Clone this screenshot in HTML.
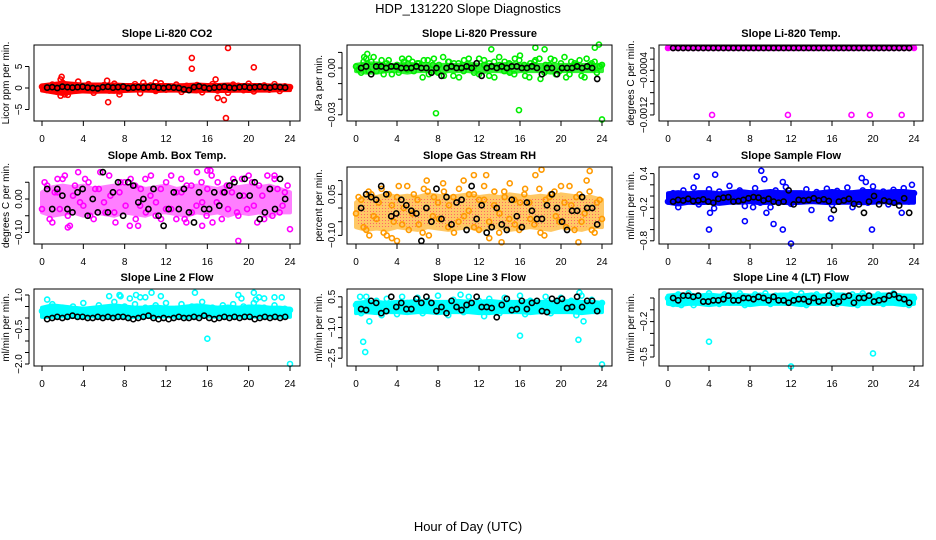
<!DOCTYPE html>
<html><head><meta charset="utf-8"><style>
html,body{margin:0;padding:0;background:#fff;}
svg{display:block;font-family:"Liberation Sans",sans-serif;}
</style></head><body>
<svg id="chart" width="936" height="540" viewBox="0 0 936 540">
<defs>
<pattern id="rhdots" width="3" height="3" patternUnits="userSpaceOnUse"><rect width="3" height="3" fill="#ffa500"/><rect x="1" y="1" width="1" height="1" fill="#ff0000"/></pattern>
</defs>
<text x="468" y="13" text-anchor="middle" font-size="13">HDP_131220  Slope Diagnostics</text>
<text x="468" y="531" text-anchor="middle" font-size="13">Hour of Day (UTC)</text>
<g id="panels"></g>
</svg>
<script>
// ---- data ----
const xTicks = [0,4,8,12,16,20,24];
const xTickLabels = ["0","4","8","12","16","20","24"];

const co2Lo = [-0.6,-1.0,-1.4,-1.0,-0.8,-0.9,-0.8,-0.9,-0.7,-0.6,-0.6,-0.7,-0.6,-0.6,-0.7,-0.8,-0.6,-0.7,-0.7,-0.6,-0.7,-0.6,-0.6,-0.5,-0.5];
const co2Hi = [0.6,0.9,1.2,1.0,0.8,0.8,0.8,0.8,0.7,0.7,0.6,0.7,0.7,0.6,0.7,0.8,0.7,0.7,0.8,0.7,0.7,0.7,0.6,0.6,0.5];
const co2Pts = [0.3,-0.5,0.8,-0.9,1.2,-1.6,0.6,1.5,-0.4,0.9,-1.1,0.2,0.7,-0.6,1.0,-0.8,0.4,-0.3,0.9,-1.2,0.5,0.6,-0.7,1.1,-0.4,0.3,0.8,-0.9,0.5,-0.2,0.7,-1.0,0.4,0.9,-0.6,0.2,-1.1,0.8,0.5,-0.5,1.0,-0.8,0.3,0.6,-0.4,0.9,-0.7,0.4,0.2];
const co2Blk = [0.1,0.2,0.0,0.3,0.2,0.1,0.2,0.3,0.1,0.0,-0.1,0.2,0.3,0.1,0.2,0.3,0.0,0.1,0.2,0.1,0.2,0.3,0.1,0.0,0.2,0.1,0.0,-0.3,-0.5,0.2,0.4,0.1,-0.1,0.1,0.2,0.3,0.1,0.0,0.2,0.3,0.1,0.2,0.3,0.2,0.1,0.3,0.2,0.1];
const co2OutX = [1.9,1.8,6.4,6.3,14.5,14.5,18,17.8,16.8,17,17.6,20.5,1.8,2.2,7.5,9.8,11];
const co2OutY = [2.6,2.0,-3.3,1.7,7,4.5,9.3,-7,2,-2.3,-2.8,4.8,-1.8,-1.5,-1.5,1.2,1.3];

const presLo = [-0.002,-0.003,-0.003,-0.002,-0.002,-0.003,-0.002,-0.002,-0.003,-0.002,-0.002,-0.002,-0.003,-0.002,-0.002,-0.003,-0.002,-0.002,-0.002,-0.003,-0.002,-0.002,-0.002,-0.002,-0.002];
const presHi = [0.002,0.003,0.003,0.002,0.002,0.003,0.002,0.002,0.002,0.002,0.002,0.003,0.002,0.002,0.002,0.003,0.002,0.002,0.002,0.002,0.002,0.002,0.002,0.002,0.002];
const presPts = [0.001,-0.003,0.006,0.004,-0.002,0.005,0.003,-0.004,0.002,0.006,-0.001,0.004,0.003,-0.006,0.005,0.002,-0.003,0.007,0.004,-0.005,0.003,-0.002,0.006,0.001,-0.004,0.005,0.003,-0.006,0.002,0.004,-0.003,0.006,0.008,-0.005,0.003,0.005,-0.007,0.002,0.006,-0.004,0.003,-0.006,0.004,0.002,-0.005,0.006,0.003,-0.003,0.002];
const presPts2 = [-0.001,0.004,-0.002,0.007,0.002,-0.004,0.005,0.001,-0.003,0.004,0.006,-0.002,0.003,0.005,-0.004,0.006,0.002,-0.005,0.004,0.003,-0.006,0.005,0.001,-0.003,0.006,0.002,-0.005,0.004,0.007,-0.002,0.003,-0.004,0.005,0.002,-0.006,0.004,0.006,-0.003,0.002,0.005,-0.002,0.007,-0.004,0.003,0.005,-0.006,0.002,0.004,0.001];
const presBlk = [0.000,0.001,-0.004,0.001,0.001,0.000,0.001,0.001,0.000,0.000,0.000,0.001,0.000,0.000,-0.003,0.000,-0.005,0.000,0.001,0.000,0.000,0.001,0.000,0.003,-0.005,0.000,0.001,0.000,0.001,0.000,0.001,0.001,0.000,0.000,0.001,0.000,-0.004,0.000,0.000,-0.004,0.000,0.000,0.000,0.001,0.000,0.001,0.000,-0.007];
const presOutX = [7.8,15.9,24,13.2,17.5,18.4,23.3,23.7,0.8,1.1];
const presOutY = [-0.029,-0.027,-0.033,0.012,0.013,0.012,0.013,0.015,0.007,0.009];

const tempLo = [0,0,0,0,0,0,0,0,0,0,0,0,0,0,0,0,0,0,0,0,0,0,0,0,0];
const tempHi = [0,0,0,0,0,0,0,0,0,0,0,0,0,0,0,0,0,0,0,0,0,0,0,0,0];
const tempPts = [0,0,0,0,0,0,0,0,0,0,0,0,0,0,0,0,0,0,0,0,0,0,0,0,0,0,0,0,0,0,0,0,0,0,0,0,0,0,0,0,0,0,0,0,0,0,0,0,0];
const tempPts2 = [];
const tempBlk = [0,0,0,0,0,0,0,0,0,0,0,0,0,0,0,0,0,0,0,0,0,0,0,0,0,0,0,0,0,0,0,0,0,0,0,0,0,0,0,0,0,0,0,0,0,0,0,0];
const tempOutX = [4.3,11.7,17.9,19.7,22.8];
const tempOutY = [-0.0012,-0.0012,-0.0012,-0.0012,-0.0012];

const ambLo = [-0.04,-0.05,-0.045,-0.04,-0.05,-0.04,-0.045,-0.05,-0.04,-0.045,-0.05,-0.04,-0.04,-0.045,-0.05,-0.04,-0.045,-0.04,-0.05,-0.04,-0.045,-0.04,-0.05,-0.04,-0.04];
const ambHi = [0.02,0.035,0.04,0.035,0.04,0.03,0.035,0.04,0.035,0.04,0.03,0.035,0.04,0.03,0.035,0.04,0.035,0.03,0.04,0.035,0.04,0.035,0.04,0.03,0.02];
const ambPts = [-0.03,0.04,-0.07,0.02,0.06,-0.05,0.01,0.08,-0.02,0.05,-0.06,0.03,-0.01,0.07,-0.04,0.02,0.05,-0.08,0.04,-0.02,0.06,0.01,-0.05,0.03,-0.03,0.07,-0.06,0.02,0.04,-0.04,0.08,-0.01,0.03,-0.07,0.05,0.02,-0.03,0.06,-0.05,0.01,0.07,-0.02,0.04,-0.06,0.03,0.06,-0.04,0.02,-0.09];
const ambPts2 = [0.05,-0.06,0.02,-0.03,0.07,-0.08,0.04,-0.01,0.06,-0.05,0.03,0.08,-0.04,0.01,-0.07,0.05,-0.02,0.06,-0.06,0.03,-0.04,0.07,-0.01,-0.06,0.05,-0.03,0.02,0.06,-0.07,0.04,-0.02,0.05,-0.05,0.07,-0.01,-0.06,0.04,0.02,-0.04,0.06,-0.03,0.05,-0.07,0.01,0.07,-0.05,0.03,-0.02,0.04];
const ambBlk = [0.03,-0.03,0.03,0.01,-0.03,-0.04,0.02,0.03,-0.05,0.0,-0.04,0.08,-0.04,0.02,0.05,-0.05,0.05,0.04,-0.01,0.0,-0.03,0.03,-0.05,-0.08,-0.03,0.02,-0.03,0.03,-0.04,-0.07,0.02,-0.03,-0.03,0.02,-0.02,0.02,0.04,0.05,0.01,0.06,0.01,0.05,-0.06,-0.04,0.03,-0.03,0.06,0.0];
const ambOutX = [19,2.5,9.3,16,16.3,1.5,15.5,22.5,13.8];
const ambOutY = [-0.125,-0.085,-0.08,0.085,0.085,0.06,-0.08,0.07,-0.06];

const rhLo = [-0.07,-0.08,-0.075,-0.08,-0.07,-0.075,-0.08,-0.07,-0.075,-0.08,-0.075,-0.07,-0.08,-0.075,-0.07,-0.08,-0.075,-0.07,-0.075,-0.08,-0.07,-0.075,-0.08,-0.07,-0.07];
const rhHi = [0.02,0.045,0.04,0.05,0.04,0.045,0.04,0.05,0.045,0.04,0.045,0.05,0.04,0.045,0.04,0.05,0.045,0.04,0.045,0.04,0.05,0.045,0.04,0.04,0.03];
const rhPts = [-0.02,0.03,-0.08,0.05,-0.04,0.07,-0.1,0.01,0.04,-0.06,0.08,-0.02,0.03,-0.09,0.06,-0.03,0.02,0.09,-0.07,0.04,-0.05,0.1,-0.01,0.05,-0.08,0.03,-0.11,0.06,-0.02,0.04,0.09,-0.06,0.02,0.07,-0.04,0.12,-0.09,0.03,0.05,-0.03,0.08,-0.07,0.01,0.04,-0.05,0.1,-0.08,0.02,-0.04];
const rhPts2 = [0.04,-0.07,0.06,-0.03,0.02,-0.09,0.05,-0.05,0.08,0.0,-0.08,0.05,-0.06,0.07,-0.1,0.04,-0.04,0.06,0.01,-0.09,0.07,-0.03,0.05,-0.07,0.03,0.08,-0.05,0.01,-0.09,0.06,-0.04,0.03,-0.08,0.05,0.02,-0.06,0.07,-0.1,0.04,0.06,-0.05,0.02,0.08,-0.08,0.05,-0.02,0.06,-0.09,0.03];
const rhBlk = [0.0,0.05,0.04,0.03,0.08,0.05,-0.03,-0.02,0.03,0.01,-0.01,-0.02,-0.12,0.0,-0.05,0.07,-0.04,0.04,-0.06,0.02,0.03,-0.08,0.08,-0.04,0.01,-0.09,-0.07,0.0,-0.06,-0.08,0.03,-0.03,-0.07,0.02,-0.01,-0.04,-0.04,0.01,0.05,0.0,-0.05,-0.08,-0.01,-0.01,0.04,0.0,0.0,-0.06];
const rhOutX = [18.1,22.8,11.5,12.7,1.3,3.5,4.0,14.2,21.7,6.9];
const rhOutY = [0.14,0.135,0.12,0.12,-0.1,-0.11,-0.12,-0.125,-0.125,0.1];

const flowLo = [-0.12,-0.15,-0.12,-0.13,-0.12,-0.14,-0.12,-0.12,-0.11,-0.13,-0.12,-0.12,-0.13,-0.12,-0.11,-0.12,-0.13,-0.12,-0.12,-0.13,-0.12,-0.11,-0.12,-0.12,-0.12];
const flowHi = [0.05,0.07,0.05,0.07,0.07,0.05,0.07,0.09,0.07,0.07,0.09,0.07,0.07,0.07,0.05,0.07,0.09,0.07,0.07,0.09,0.09,0.07,0.09,0.09,0.07];
const flowPts = [-0.1,0.05,-0.2,0.1,-0.05,0.15,-0.15,0.0,0.12,-0.22,0.08,-0.1,0.18,-0.05,0.1,-0.18,0.02,0.14,-0.12,0.06,-0.2,0.1,-0.03,0.16,-0.14,0.04,-0.08,0.12,-0.25,0.07,-0.02,0.13,-0.16,0.09,-0.06,0.15,-0.2,0.03,0.1,-0.12,0.17,-0.04,0.08,-0.15,0.11,-0.07,0.14,-0.1,0.05];
const flowPts2 = [];
const flowBlk = [-0.1,-0.07,-0.08,-0.05,-0.09,-0.08,-0.06,-0.1,-0.12,-0.05,-0.03,-0.02,-0.1,-0.09,-0.07,-0.04,-0.02,-0.03,-0.08,-0.05,-0.1,-0.12,-0.1,0.1,-0.15,-0.07,-0.08,-0.07,-0.04,-0.08,-0.06,-0.09,-0.25,-0.1,-0.08,-0.05,-0.14,-0.15,-0.3,-0.1,0.0,-0.15,-0.08,-0.1,-0.12,-0.17,-0.04,-0.3];
const flowOutX = [2.8,4.6,9.1,9.4,11.2,18.9,19.3,23.8,4.0,4.1,7.5,9.6,10.3,11.2,12,15.9,19.9,8.3,22.8];
const flowOutY = [0.35,0.38,0.45,0.3,0.25,0.32,0.25,0.2,-0.6,-0.3,-0.45,-0.3,-0.5,-0.6,-0.85,-0.4,-0.6,-0.2,-0.3];

const l2Lo = [0.05,0.05,0.07,0.05,0.05,0.07,0.05,0.05,0.07,0.05,0.05,0.05,0.07,0.05,0.05,0.05,0.07,0.05,0.05,0.05,0.07,0.05,0.05,0.05,0.05];
const l2Hi = [0.45,0.55,0.5,0.45,0.4,0.45,0.5,0.55,0.5,0.45,0.45,0.5,0.45,0.45,0.5,0.55,0.5,0.45,0.5,0.45,0.5,0.5,0.45,0.45,0.4];
const l2Pts = [0.3,0.1,0.6,0.2,0.45,0.05,0.5,0.25,0.65,0.1,0.35,0.55,0.15,0.4,0.7,0.2,0.5,0.05,0.6,0.3,0.45,0.1,0.55,0.25,0.65,0.15,0.4,0.6,0.05,0.5,0.3,0.7,0.2,0.45,0.1,0.55,0.35,0.6,0.15,0.5,0.25,0.65,0.1,0.45,0.3,0.55,0.2,0.4,0.35];
const l2Pts2 = [];
const l2Blk = [-0.05,0.0,0.05,0.0,0.05,0.1,0.05,0.05,0.0,0.0,0.05,0.0,0.05,0.0,0.05,0.05,0.0,-0.05,0.0,0.05,0.1,0.0,-0.05,0.0,-0.05,0.0,0.05,0.0,0.0,0.05,0.0,0.1,0.0,-0.05,0.0,0.05,0.0,0.05,0.0,0.05,0.05,-0.05,0.0,0.05,0.0,0.05,0.0,0.05];
const l2OutX = [0.5,6.5,7.5,7.6,8.5,9.1,9.5,10,10.6,11.5,14.8,19,19.3,20.5,20.7,21,21.5,22.5,23.2,16,24];
const l2OutY = [0.8,0.95,1.0,0.95,0.85,1.0,0.9,0.9,1.1,0.95,1.1,1.0,0.85,1.1,0.8,0.9,0.85,0.9,0.9,-0.9,-2.0];

const l3Lo = [-0.3,-0.25,-0.3,-0.25,-0.25,-0.3,-0.25,-0.25,-0.3,-0.25,-0.25,-0.25,-0.3,-0.3,-0.25,-0.25,-0.25,-0.3,-0.25,-0.25,-0.25,-0.25,-0.3,-0.25,-0.25];
const l3Hi = [0.2,0.25,0.25,0.2,0.25,0.25,0.3,0.25,0.25,0.25,0.3,0.25,0.25,0.3,0.25,0.25,0.25,0.3,0.25,0.25,0.25,0.3,0.25,0.25,0.2];
const l3Pts = [0.1,-0.3,0.5,-0.2,0.3,-0.4,0.4,0.0,-0.35,0.5,0.2,-0.1,0.45,-0.3,0.3,-0.2,0.55,0.0,-0.4,0.35,0.15,-0.25,0.5,-0.1,0.3,-0.45,0.4,0.05,-0.3,0.45,0.2,-0.15,0.55,-0.35,0.3,0.1,-0.2,0.5,-0.3,0.25,0.45,-0.1,0.3,-0.4,0.55,0.0,0.35,-0.2,0.2];
const l3Pts2 = [];
const l3Blk = [-0.1,-0.15,0.3,0.2,-0.3,-0.2,0.5,0.0,0.2,-0.1,-0.1,0.4,0.2,0.5,0.2,-0.2,0.0,-0.3,0.3,0.0,-0.15,0.1,0.2,0.5,0.0,0.0,-0.05,-0.5,0.1,0.4,-0.15,-0.1,0.3,-0.1,0.2,0.3,-0.2,-0.25,0.4,0.3,0.4,-0.05,0.0,0.5,0.0,0.3,0.3,-0.2];
const l3OutX = [0.7,0.9,1.3,16,21.7,22.2,24,21.8,0.4,10.2];
const l3OutY = [-1.7,-2.2,-0.7,-1.4,-1.6,-0.7,-2.8,0.7,0.5,0.6];

const l4Lo = [-0.05,-0.06,-0.05,-0.05,-0.06,-0.05,-0.05,-0.05,-0.06,-0.05,-0.05,-0.05,-0.05,-0.06,-0.05,-0.05,-0.05,-0.05,-0.06,-0.05,-0.05,-0.05,-0.05,-0.06,-0.05];
const l4Hi = [0.02,0.03,0.03,0.02,0.03,0.02,0.03,0.03,0.02,0.03,0.02,0.03,0.03,0.02,0.03,0.02,0.03,0.03,0.02,0.03,0.02,0.03,0.03,0.02,0.02];
const l4Pts = [0.0,-0.05,0.03,-0.02,0.04,-0.06,0.02,-0.03,0.04,0.0,-0.05,0.03,-0.04,0.02,0.04,-0.06,0.01,0.03,-0.03,0.04,-0.05,0.02,0.0,-0.04,0.03,-0.02,0.04,-0.06,0.02,0.03,-0.04,0.01,0.04,-0.05,0.02,-0.02,0.03,-0.06,0.04,0.0,-0.03,0.03,-0.05,0.02,0.04,-0.04,0.01,-0.06,0.0];
const l4Pts2 = [];
const l4Blk = [0.0,-0.02,0.02,0.02,0.01,0.02,-0.03,-0.03,-0.02,-0.02,-0.01,0.02,-0.02,-0.02,0.0,0.0,-0.01,0.01,0.0,-0.02,0.01,-0.02,-0.02,-0.04,-0.02,-0.01,-0.01,-0.03,0.0,-0.03,-0.02,0.02,-0.04,-0.03,0.01,0.02,-0.04,0.0,0.0,0.02,-0.03,-0.02,-0.01,0.02,0.03,0.0,-0.01,-0.04];
const l4OutX = [4.0,12.0,20.0,1.3];
const l4OutY = [-0.37,-0.58,-0.47,-0.06];
const co2Pts2 = [];

// y tick values & labels
const co2YTicks = [5,0,-5], co2YLabels = ["5","0","\u22125"];
const presYTicks = [0.01,0,-0.01,-0.02,-0.03], presYLabels = ["","0.00","","","\u22120.03"];
const tempYTicks = [0,-0.0002,-0.0004,-0.0006,-0.0008,-0.001,-0.0012], tempYLabels = ["","","\u22120.0004","","","","\u22120.0012"];
const ambYTicks = [0.05,0,-0.05,-0.1], ambYLabels = ["","0.00","","\u22120.10"];
const rhYTicks = [0.1,0.05,0,-0.05,-0.1], rhYLabels = ["","0.05","","","\u22120.10"];
const flowYTicks = [0.4,0.2,0,-0.2,-0.4,-0.6,-0.8], flowYLabels = ["0.4","","","\u22120.2","","","\u22120.8"];
const l2YTicks = [1,0.5,0,-0.5,-1,-1.5,-2], l2YLabels = ["1.0","","","\u22120.5","","","\u22122.0"];
const l3YTicks = [0.5,0,-0.5,-1,-1.5,-2,-2.5], l3YLabels = ["0.5","","","\u22121.0","","","\u22122.5"];
const l4YTicks = [0,-0.1,-0.2,-0.3,-0.4,-0.5], l4YLabels = ["","","\u22120.2","","","\u22120.5"];

// ---- layout ----
const cols = [{L:34,R:300,x0:42,x1:290},{L:347,R:612,x0:356,x1:602},{L:659,R:923,x0:668,x1:914}];
const rows = [{T:45,B:121},{T:167,B:244},{T:289,B:366}];
const panels = [
 {name:"co2",title:"Slope Li-820 CO2",ylab:"Licor ppm per min.",c:0,r:0,color:"#ff0000",v0:0,y0:88,ppu:-4.3,lo:co2Lo,hi:co2Hi,pts:co2Pts,pts2:co2Pts2,blk:co2Blk,ox:co2OutX,oy:co2OutY,yt:co2YTicks,yl:co2YLabels,op:1},
 {name:"pressure",title:"Slope Li-820 Pressure",ylab:"kPa per min.",c:1,r:0,color:"#00ee00",v0:0,y0:68,ppu:-1560,lo:presLo,hi:presHi,pts:presPts,pts2:presPts2,blk:presBlk,ox:presOutX,oy:presOutY,yt:presYTicks,yl:presYLabels,op:0.8},
 {name:"temp",title:"Slope Li-820 Temp.",ylab:"degrees C per min.",c:2,r:0,color:"#ff00ff",v0:0,y0:48,ppu:-55800,lo:tempLo,hi:tempHi,pts:tempPts,pts2:tempPts2,blk:tempBlk,ox:tempOutX,oy:tempOutY,yt:tempYTicks,yl:tempYLabels,op:1},
 {name:"amb-box-temp",title:"Slope Amb. Box Temp.",ylab:"degrees C per min.",c:0,r:1,color:"#ff00ff",v0:0,y0:199,ppu:-335,lo:ambLo,hi:ambHi,pts:ambPts,pts2:ambPts2,blk:ambBlk,ox:ambOutX,oy:ambOutY,yt:ambYTicks,yl:ambYLabels,op:0.5},
 {name:"gas-stream-rh",title:"Slope Gas Stream RH",ylab:"percent per min.",c:1,r:1,color:"#ffa500",dot:"#ff0000",v0:0,y0:208,ppu:-274,lo:rhLo,hi:rhHi,pts:rhPts,pts2:rhPts2,blk:rhBlk,ox:rhOutX,oy:rhOutY,yt:rhYTicks,yl:rhYLabels,op:0.6},
 {name:"sample-flow",title:"Slope Sample Flow",ylab:"ml/min per min.",c:2,r:1,color:"#0000ff",v0:0,y0:196,ppu:-56,lo:flowLo,hi:flowHi,pts:flowPts,pts2:flowPts2,blk:flowBlk,ox:flowOutX,oy:flowOutY,yt:flowYTicks,yl:flowYLabels,op:1},
 {name:"line2-flow",title:"Slope Line 2 Flow",ylab:"ml/min per min.",c:0,r:2,color:"#00ffff",v0:0,y0:318,ppu:-23,lo:l2Lo,hi:l2Hi,pts:l2Pts,pts2:l2Pts2,blk:l2Blk,ox:l2OutX,oy:l2OutY,yt:l2YTicks,yl:l2YLabels,op:1},
 {name:"line3-flow",title:"Slope Line 3 Flow",ylab:"ml/min per min.",c:1,r:2,color:"#00ffff",v0:0,y0:307,ppu:-20.5,lo:l3Lo,hi:l3Hi,pts:l3Pts,pts2:l3Pts2,blk:l3Blk,ox:l3OutX,oy:l3OutY,yt:l3YTicks,yl:l3YLabels,op:1},
 {name:"line4-flow",title:"Slope Line 4 (LT) Flow",ylab:"ml/min per min.",c:2,r:2,color:"#00ffff",v0:0,y0:298,ppu:-118,lo:l4Lo,hi:l4Hi,pts:l4Pts,pts2:l4Pts2,blk:l4Blk,ox:l4OutX,oy:l4OutY,yt:l4YTicks,yl:l4YLabels,op:1}
];

const NS = "http://www.w3.org/2000/svg";
const root = document.getElementById("panels");
function mk(tag, attrs, parent){ const e=document.createElementNS(NS,tag); for(const k in attrs) e.setAttribute(k,attrs[k]); parent.appendChild(e); return e; }

panels.forEach(p=>{
  const col=cols[p.c], row=rows[p.r];
  const xs = h => col.x0 + h*(col.x1-col.x0)/24;
  const ys = v => p.y0 + (v-p.v0)*p.ppu;
  const g = mk("g",{},root);
  
  
  const clipId="clip-"+p.name;
  const cp=mk("clipPath",{id:clipId},g);
  mk("rect",{x:col.L-4,y:row.T-4,width:col.R-col.L+8,height:row.B-row.T+8},cp);
  const t = mk("text",{x:(col.L+col.R)/2,y:row.T-8,"text-anchor":"middle","font-size":"11","font-weight":"bold"},g);
  t.textContent=p.title;
  
  
  const pg = mk("g",{"clip-path":"url(#"+clipId+")"},g);
  
  
  // band
  let d="";
  p.hi.forEach((v,i)=>{ d+=(i?"L":"M")+xs(i)+","+ys(v); });
  for(let i=p.lo.length-1;i>=0;i--) d+="L"+xs(i)+","+ys(p.lo[i]);
  d+="Z";
  const band=mk("path",{d:d,fill:p.dot?"url(#rhdots)":p.color,stroke:p.color,"stroke-width":4,"stroke-linejoin":"round",opacity:p.op},pg);
  
  
  const pc = p.dot?"#ff9a00":p.color;
  p.pts.forEach((v,i)=>{
    const c=mk("circle",{cx:xs(i*0.5),cy:ys(v),r:2.5,fill:"none",stroke:pc,"stroke-width":1.6},pg);
    
    
  });
  p.pts2.forEach((v,i)=>{
    const c=mk("circle",{cx:xs(0.25+i*0.49),cy:ys(v),r:2.5,fill:"none",stroke:pc,"stroke-width":1.6},pg);
    
    
  });
  p.ox.forEach((x,i)=>{
    const c=mk("circle",{cx:xs(x),cy:ys(p.oy[i]),r:2.5,fill:"none",stroke:pc,"stroke-width":1.6},pg);
    
    
  });
  p.blk.forEach((v,i)=>{
    const c=mk("circle",{cx:xs(0.5+i*0.49),cy:ys(v),r:2.6,fill:"none",stroke:"#000","stroke-width":1.6},pg);
    
    
  });
  // box
  const box=mk("rect",{x:col.L,y:row.T,width:col.R-col.L,height:row.B-row.T,fill:"none",stroke:"#000","stroke-width":1},g);
  
  
  // x axis
  const xa=mk("g",{},g);
  
  
  xTicks.forEach((h,i)=>{
    mk("line",{x1:xs(h),x2:xs(h),y1:row.B,y2:row.B+5,stroke:"#000"},xa);
    const tl=mk("text",{x:xs(h),y:row.B+21,"text-anchor":"middle","font-size":"10"},xa);
    tl.textContent=xTickLabels[i];
  });
  // y axis
  const ya=mk("g",{},g);
  
  
  const yt=p.yt;
  mk("line",{x1:col.L-5,x2:col.L-5,y1:ys(yt[0]),y2:ys(yt[yt.length-1]),stroke:"#000"},ya);
  yt.forEach((v,i)=>{
    const y=ys(v);
    mk("line",{x1:col.L-9,x2:col.L-5,y1:y,y2:y,stroke:"#000"},ya);
    if(p.yl[i]){
      const tl=mk("text",{x:col.L-12,y:y,"text-anchor":"middle","font-size":"10",transform:"rotate(-90 "+(col.L-12)+" "+y+")"},ya);
      tl.textContent=p.yl[i];
    }
  });
  const yc=(row.T+row.B)/2, yx=col.L-25;
  const yt2=mk("text",{x:yx,y:yc,"text-anchor":"middle","font-size":"10",transform:"rotate(-90 "+yx+" "+yc+")"},g);
  yt2.textContent=p.ylab;
  
  
});
</script>
</body></html>
